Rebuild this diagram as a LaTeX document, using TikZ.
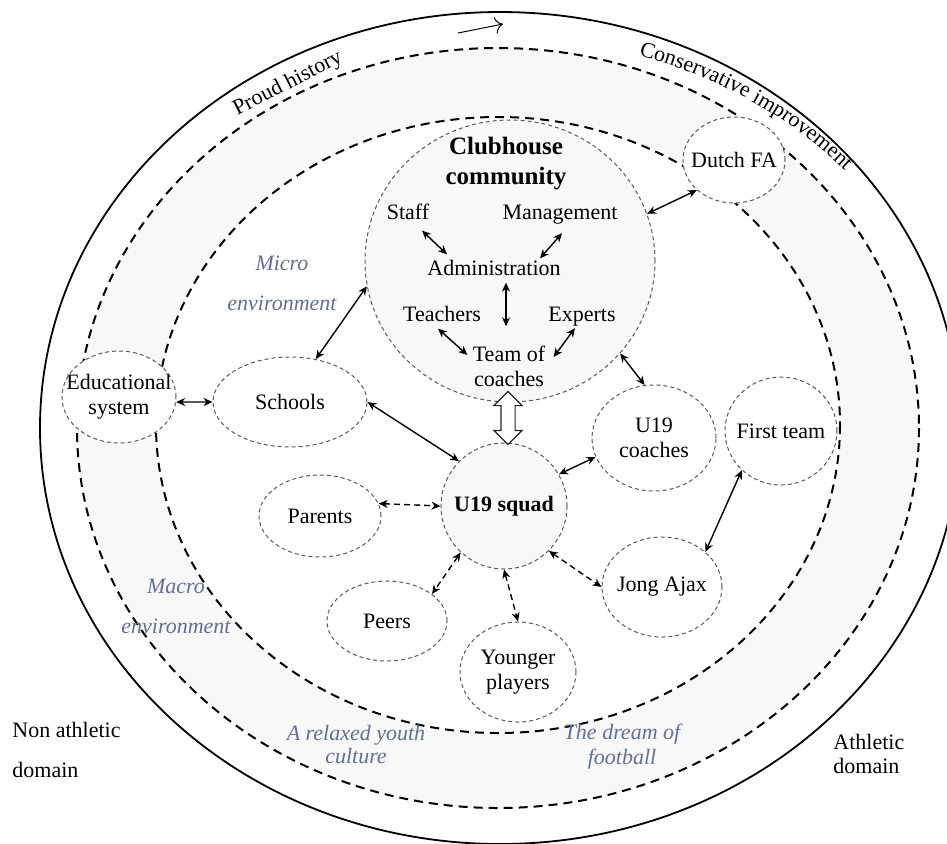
\documentclass[tikz,border=0pt]{standalone}
\usepackage{fontspec}
\setmainfont{Liberation Serif}
\usetikzlibrary{shapes.geometric,shapes.arrows,arrows.meta,decorations.text}

\definecolor{bandgray}{RGB}{248,248,248}
\definecolor{envtext}{RGB}{98,112,145}

\begin{document}
\begin{tikzpicture}[x=0.5pt,y=-0.5pt,
  every node/.style={font=\fontsize{11}{12.5}\selectfont},
  every label/.style={align=center},
  ring/.style={line width=1pt,dash pattern=on 4.5pt off 3pt},
  place/.style={ellipse,draw=black!65,line width=0.5pt,dash pattern=on 2pt off 1.5pt,fill=white,inner sep=0pt},
  word/.style={inner sep=0pt,align=center},
  env/.style={align=center,text=envtext,font=\fontsize{11}{20}\selectfont\itshape},
  tie/.style={{Stealth[length=4.5pt,width=4pt]}-{Stealth[length=4.5pt,width=4pt]},line width=0.7pt},
  loose/.style={tie,dash pattern=on 3pt off 2pt}]
\useasboundingbox (0,0) rectangle (947,843);
\draw[line width=0.9pt] (500,428) ellipse [x radius=460,y radius=416];
\draw[ring,fill=bandgray] (498,428) ellipse [x radius=421,y radius=380];
\draw[ring,fill=white] (498,425) ellipse [x radius=342,y radius=308];

\node (proud) [rotate=27] at (288,84) {Proud history};
\path[decorate,decoration={text along path,text align=center,
  text={|\fontsize{11}{13}\selectfont|Conservative improvement}}]
  (500,428) ++(-78:458 and 391) arc[start angle=-78,end angle=-35,x radius=458,y radius=391];
\coordinate (t0) at (458,33);
\coordinate (t1) at (503,24);
\draw[-{To[length=4pt]},line width=0.5pt] (t0) -- (t1);

\node (club) [place,fill=bandgray,minimum width=145pt,minimum height=141pt] at (510,261) {};
\node (dutch) [place,minimum width=51pt,minimum height=43pt,label=center:Dutch FA] at (734,160) {};
\node (edu) [place,minimum width=57pt,minimum height=46pt,label={center:Educational\\system}] at (119,397) {};
\node (schools) [place,minimum width=77pt,minimum height=45pt,label=center:Schools] at (290,402) {};
\node (parents) [place,minimum width=61pt,minimum height=41pt,label=center:Parents] at (320,516) {};
\node (u19) [place,fill=bandgray,minimum width=63pt,minimum height=63pt,
  label={[font=\fontsize{11}{12.5}\selectfont\bfseries]center:U19 squad}] at (504,506) {};
\node (peers) [place,minimum width=60pt,minimum height=40pt,label=center:Peers] at (387,621) {};
\node (younger) [place,minimum width=58pt,minimum height=50pt,label={center:Younger\\players}] at (518,672) {};
\node (jong) [place,minimum width=60pt,minimum height=50pt,label=center:Jong Ajax] at (662,587) {};
\node (coaches) [place,minimum width=62pt,minimum height=53pt,label={center:U19\\coaches}] at (654,438) {};
\node (first) [place,minimum width=56pt,minimum height=54pt,label=center:First team] at (781,431) {};

\node (title) [word,font=\fontsize{12.5}{15}\selectfont\bfseries] at (506,164) {Clubhouse\\community};
\node (staff) [word,anchor=base] at (408,219) {Staff};
\node (mgmt) [word,anchor=base] at (560,219) {Management};
\node (admin) [word,anchor=base] at (494,275) {Administration};
\node (teach) [word,anchor=base] at (442,321) {Teachers};
\node (expert) [word,anchor=base] at (582,321) {Experts};
\node (team) [word] at (509,366) {Team of\\coaches};
\node (pass) [double arrow,draw=black!85,line width=0.6pt,fill=white,rotate=90,inner xsep=0pt,inner ysep=3.25pt,
  minimum height=26.5pt,minimum width=13.5pt,double arrow head extend=3.5pt] at (508,418) {};

\node (micro) [env] at (282,283) {Micro\\environment};
\node (macro) [env] at (176,606) {Macro\\environment};
\node (youth) [env,font=\fontsize{11}{11.5}\selectfont\itshape] at (356,744) {A relaxed youth\\culture};
\node (dream) [env,font=\fontsize{11}{12.5}\selectfont\itshape] at (622,747) {The dream of\\football};
\node (non) [align=left,anchor=west,inner sep=0pt,font=\fontsize{11}{20}\selectfont] at (12,750) {Non athletic\\domain};
\node (ath) [align=left,anchor=west,inner sep=0pt,font=\fontsize{11}{12}\selectfont] at (833,754) {Athletic\\domain};

\draw[tie] ([shift={(14,11)}]staff.south) -- ([shift={(20,-5)}]admin.north west);
\draw[tie] ([shift={(2,9)}]mgmt.south) -- ([shift={(-21,-1)}]admin.north east);
\draw[tie] ([shift={(12,7)}]admin.south) -- ([shift={(-3,-19)}]team.north);
\draw[tie] ([shift={(-4,7)}]teach.south) -- ([shift={(-5,-11)}]team.west);
\draw[tie] ([shift={(-7,2)}]expert.south) -- ([shift={(8,-9)}]team.east);

\draw[tie] (club.19) -- (dutch.219);
\draw[tie] (club.190) -- (schools.59);
\draw[tie] (edu.-5) -- (schools.west);
\draw[tie] (schools.east) -- (u19.135);
\draw[tie] (club.-40) -- (coaches.100);
\draw[tie] (u19.30) -- (coaches.198);
\draw[tie] (first.225) -- (jong.39);
\draw[loose] (parents.12) -- (u19.west);
\draw[loose] (u19.227) -- (peers.31);
\draw[loose] (u19.south) -- (younger.north);
\draw[loose] (u19.-45) -- (jong.west);
\end{tikzpicture}
\end{document}
